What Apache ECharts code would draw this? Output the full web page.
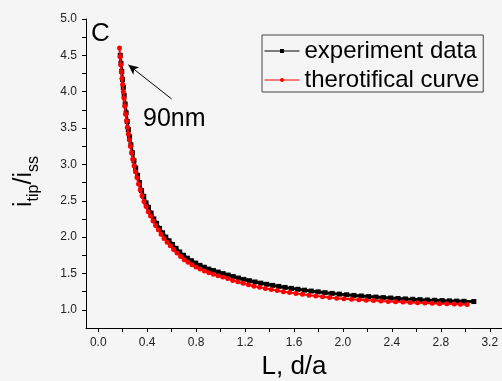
<!DOCTYPE html>
<html>
<head>
<meta charset="utf-8">
<script src="https://cdn.jsdelivr.net/npm/echarts@6/dist/echarts.min.js"></script>
<style>
html,body{margin:0;padding:0;background:#f5f5f5;}
#chart{width:502px;height:381px;}
</style>
</head>
<body>
<div id="chart"></div>
<script>
// ---- data ----
var seriesNames = ['experiment data', 'therotifical curve'];

var expL = [0.180,0.186,0.192,0.198,0.205,0.212,0.220,0.228,0.237,0.246,0.256,0.267,0.279,0.292,0.306,0.321,0.337,0.354,0.372,0.391,0.411,0.432,0.454,0.477,0.501,0.526,0.552,0.579,0.607,0.636,0.666,0.697,0.729,0.762,0.796,0.831,0.867,0.904,0.942,0.981,1.021,1.062,1.104,1.147,1.191,1.236,1.282,1.329,1.377,1.426,1.476,1.527,1.579,1.632,1.686,1.741,1.797,1.854,1.912,1.971,2.03,2.09,2.15,2.21,2.27,2.33,2.39,2.45,2.51,2.57,2.63,2.69,2.75,2.81,2.87,2.93,2.99,3.07];
var expI = [4.50,4.39,4.28,4.17,4.06,3.95,3.83,3.71,3.59,3.48,3.38,3.27,3.16,3.05,2.95,2.85,2.75,2.64,2.56,2.47,2.41,2.33,2.25,2.19,2.12,2.06,2.00,1.95,1.90,1.845,1.795,1.75,1.71,1.675,1.643,1.612,1.586,1.56,1.54,1.519,1.498,1.478,1.457,1.437,1.418,1.40,1.383,1.367,1.351,1.336,1.322,1.308,1.295,1.282,1.270,1.258,1.247,1.236,1.226,1.216,1.207,1.198,1.190,1.182,1.175,1.168,1.162,1.156,1.150,1.145,1.140,1.135,1.131,1.127,1.123,1.120,1.117,1.114];

var theoL = [0.174,0.179,0.184,0.189,0.194,0.199,0.205,0.211,0.217,0.224,0.231,0.238,0.246,0.254,0.263,0.272,0.282,0.293,0.304,0.316,0.329,0.343,0.358,0.374,0.391,0.409,0.428,0.448,0.469,0.491,0.514,0.538,0.563,0.589,0.616,0.644,0.673,0.703,0.734,0.766,0.799,0.833,0.868,0.904,0.941,0.979,1.018,1.058,1.099,1.141,1.184,1.228,1.273,1.319,1.366,1.414,1.463,1.513,1.564,1.616,1.669,1.723,1.778,1.834,1.891,1.949,2.008,2.07,2.13,2.19,2.25,2.31,2.37,2.43,2.49,2.55,2.61,2.67,2.73,2.79,2.85,2.91,2.96,3.015];
var theoI = [4.60,4.48,4.37,4.27,4.18,4.10,4.00,3.91,3.80,3.69,3.60,3.51,3.42,3.34,3.25,3.16,3.07,2.98,2.90,2.82,2.73,2.65,2.57,2.49,2.42,2.35,2.29,2.22,2.16,2.10,2.04,1.98,1.93,1.88,1.83,1.78,1.735,1.69,1.655,1.62,1.59,1.56,1.535,1.51,1.49,1.47,1.45,1.43,1.405,1.385,1.365,1.345,1.325,1.31,1.295,1.28,1.265,1.25,1.237,1.225,1.213,1.202,1.19,1.18,1.17,1.16,1.152,1.145,1.139,1.133,1.127,1.121,1.116,1.111,1.106,1.101,1.097,1.093,1.089,1.085,1.082,1.079,1.076,1.073];

var xLabelValues = [0.0,0.4,0.8,1.2,1.6,2.0,2.4,2.8,3.2];
var xTickValues = [0.0,0.2,0.4,0.6,0.8,1.0,1.2,1.4,1.6,1.8,2.0,2.2,2.4,2.6,2.8,3.0,3.2];
var yLabelValues = [1.0,1.5,2.0,2.5,3.0,3.5,4.0,4.5,5.0];
var yTickValues = [1.0,1.25,1.5,1.75,2.0,2.25,2.5,2.75,3.0,3.25,3.5,3.75,4.0,4.25,4.5,4.75,5.0];

var xAxisTitle = 'L, d/a';
var yTitleParts = ['i', 'tip', '/i', 'ss'];   // main, subscript, main, subscript
var panelLabel = 'C';
var arrowLabel = '90nm';
var arrowFrom = [0.60, 3.90];
var arrowTo = [0.246, 4.37];

function zip(a, b) { return a.map(function (v, i) { return [v, b[i]]; }); }

var FONT = 'Liberation Sans, Arial, sans-serif';

// rotated y-axis title pieces, laid out bottom-to-top
function yTitleGraphics() {
  var out = [];
  var yPos = 207;
  var big = 25, small = 16;
  yTitleParts.forEach(function (t, i) {
    var isSub = (i % 2 === 1);
    var fs = isSub ? small : big;
    var cx = isSub ? 33.5 : 24.5;
    out.push({
      type: 'text', x: cx, y: yPos, rotation: Math.PI / 2,
      style: { text: t, fontSize: fs, fill: '#000', fontFamily: FONT, align: 'left', verticalAlign: 'middle' }
    });
    var w = echarts.format.getTextRect ? echarts.format.getTextRect(t, fs + 'px ' + FONT).width : t.length * fs * 0.5;
    yPos -= w;
  });
  return out;
}

var chart = echarts.init(document.getElementById('chart'));
chart.setOption({
  backgroundColor: '#f5f5f5',
  animation: false,
  grid: { left: 86, right: 0, top: 19, bottom: 53, outerBoundsMode: 'none', containLabel: false },
  legend: {
    orient: 'vertical',
    left: 262, top: 35,
    padding: [4, 4, 0, 2],
    itemGap: 5,
    itemWidth: 35, itemHeight: 5,
    borderColor: '#444', borderWidth: 1,
    lineStyle: { width: 1 },
    textStyle: { fontSize: 24, color: '#000', fontFamily: FONT },
    data: seriesNames
  },
  xAxis: {
    type: 'value', min: -0.1, max: 3.3,
    name: xAxisTitle, nameLocation: 'middle', nameGap: 26,
    nameTextStyle: { fontSize: 26, color: '#000', fontFamily: FONT },
    axisLine: { show: true, onZero: false, lineStyle: { color: '#000', width: 1 } },
    axisTick: { show: true, inside: false, length: 4, lineStyle: { color: '#000' }, customValues: xTickValues },
    axisLabel: { margin: 9, fontSize: 12, color: '#222', fontFamily: FONT, customValues: xLabelValues,
      formatter: function (v) { return v.toFixed(1); } },
    splitLine: { show: false }
  },
  yAxis: {
    type: 'value', min: 0.75, max: 5.0,
    axisLine: { show: true, onZero: false, lineStyle: { color: '#000', width: 1 } },
    axisTick: { show: true, inside: false, length: 4, lineStyle: { color: '#000' }, customValues: yTickValues },
    axisLabel: { margin: 9, fontSize: 12, color: '#222', fontFamily: FONT, customValues: yLabelValues,
      formatter: function (v) { return v.toFixed(1); } },
    splitLine: { show: false }
  },
  graphic: [
    { type: 'text', left: 91, top: 21, style: { text: panelLabel, fontSize: 26, fill: '#000', fontFamily: FONT } },
    { type: 'text', left: 143, top: 107, style: { text: arrowLabel, fontSize: 25, fill: '#000', fontFamily: FONT } }
  ].concat(yTitleGraphics()),
  series: [
    {
      name: seriesNames[0], type: 'line', data: zip(expL, expI),
      symbol: 'rect', symbolSize: 5, showSymbol: true,
      lineStyle: { color: '#000', width: 3 }, itemStyle: { color: '#000' },
      z: 2,
      markLine: {
        silent: true, animation: false,
        symbol: ['none', 'arrow'], symbolSize: [7, 10],
        lineStyle: { color: '#000', width: 1, type: 'solid' },
        label: { show: false },
        data: [[{ coord: arrowFrom }, { coord: arrowTo }]]
      }
    },
    {
      name: seriesNames[1], type: 'line', data: zip(theoL, theoI),
      symbol: 'circle', symbolSize: 5, showSymbol: true,
      lineStyle: { color: '#ff0000', width: 2 }, itemStyle: { color: '#ff0000' },
      z: 3
    }
  ]
});
</script>
</body>
</html>
